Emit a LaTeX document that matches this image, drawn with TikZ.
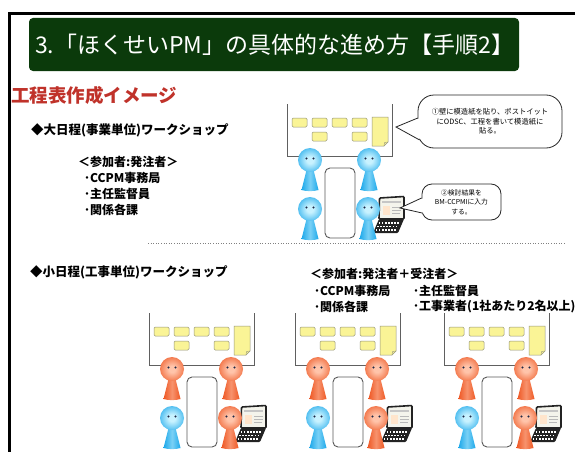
\documentclass[tikz,border=0pt]{standalone}
\usepackage{fontspec}
\setmainfont{Noto Sans CJK JP}
\usetikzlibrary{calc}

\definecolor{titlegreen}{RGB}{11,58,11}
\definecolor{headred}{RGB}{192,50,42}
\definecolor{bluedark}{RGB}{28,168,234}
\definecolor{bluelight}{RGB}{200,242,255}
\definecolor{orangedark}{RGB}{238,88,36}
\definecolor{orangelight}{RGB}{255,196,170}
\definecolor{notefill}{RGB}{250,244,150}
\definecolor{notedraw}{RGB}{150,150,125}
\definecolor{eyecol}{RGB}{30,40,70}
\definecolor{laptopdark}{RGB}{35,35,35}
\definecolor{screencol}{RGB}{244,244,236}

% shaded heads
\pgfdeclareradialshading{headblue}{\pgfpoint{0bp}{0bp}}{color(0bp)=(bluelight); color(7bp)=(bluelight); color(34bp)=(bluedark); color(50bp)=(bluedark)}
\pgfdeclareradialshading{headorange}{\pgfpoint{0bp}{0bp}}{color(0bp)=(orangelight); color(7bp)=(orangelight); color(34bp)=(orangedark); color(50bp)=(orangedark)}

\tikzset{
  body blue/.style={left color=bluedark, right color=bluedark, middle color=bluelight!55!bluedark},
  body orange/.style={left color=orangedark, right color=orangedark, middle color=orangelight!55!orangedark},
  board/.style={draw=gray!75!black, line width=1pt},
  note/.style={fill=notefill, draw=notedraw, line width=0.5pt, rounded corners=1.2pt},
  desk/.style={draw=gray!70!black, fill=white, line width=0.9pt, rounded corners=5pt},
  heading/.style={anchor=west, inner sep=0pt, font=\fontsize{12.5}{14}\selectfont\bfseries},
  member/.style={anchor=west, inner sep=0pt, font=\fontsize{12}{14}\selectfont\bfseries},
  bubble/.style={draw=gray!30!black, fill=white, line width=0.8pt, align=center, inner sep=2pt},
  pointer/.style={draw=gray!30!black, line width=0.8pt, line join=miter},
}

% one person: head centre x, y and colour (blue/orange)
\newcommand{\wsperson}[3]{%
  \shade[body #3] (#1-2.5,#2+6) -- (#1+2.5,#2+6) -- (#1+8.5,#2+30)
    .. controls (#1+4,#2+31.5) and (#1-4,#2+31.5) .. (#1-8.5,#2+30) -- cycle;
  \shade[shading=head#3] (#1,#2) circle (12pt);
  \fill[eyecol] (#1-3.5,#2-1.5) circle (1.1pt) (#1+3.5,#2-1.5) circle (1.1pt);
}

% one workshop table: board, notes, desk, laptop and four people
\newcommand{\wsgroup}[5]{%
  \begin{scope}[shift={#1}]
    % wall paper
    \draw[board] (0,-52) -- (0,0) -- (105,0) -- (105,-52);
    \foreach \nx in {5,25,45,65} {\draw[note] (\nx,-38) rectangle ++(15,9);}
    \foreach \nx in {25,65} {\draw[note] (\nx,-24) rectangle ++(15,9);}
    \draw[note, rounded corners=0pt] (85,-39) -- (101,-39) -- (101,-14) -- (97,-10) -- (85,-10) -- cycle;
    \draw[notedraw, line width=0.4pt] (101,-14) -- (97.5,-13.5) -- (97,-10);
    % desk
    \draw[desk] (38,12) rectangle (68,82);
    % laptop
    \fill[laptopdark, rounded corners=1pt] (86,77) -- (92,63) -- (117,63) -- (111,77) -- cycle;
    \foreach \r in {0,1,2} {
      \foreach \k in {0,...,6} {
        \fill[white] (91.5-\r*1.5+\k*3.1,66+\r*3.5) rectangle ++(1.8,1.6);
      }
    }
    \filldraw[draw=laptopdark, fill=screencol, line width=1.6pt, rounded corners=1pt]
      (92.5,42) -- (117,40.5) -- (117,63) -- (92,63) -- cycle;
    \fill[gray!45] (95,45) rectangle (114,46.5);
    \fill[orange!20] (96,49.5) rectangle (103,59);
    \draw[gray!55, line width=0.4pt] (105,51) -- (114,51) (105,54) -- (114,54) (105,57) -- (113,57);
    % people
    \wsperson{23}{4}{#2}
    \wsperson{82}{4}{#3}
    \wsperson{23}{53}{#4}
    \wsperson{81}{53}{#5}
  \end{scope}
}

\begin{document}
\begin{tikzpicture}[x=1pt, y=-1pt]
  \useasboundingbox (0,0) rectangle (575,452);
  \fill[white] (0,0) rectangle (575,452);

  % --- Frame and title ---
  \draw[line width=3pt, line join=miter] (575,13.5) -- (9.5,13.5) -- (9.5,452);
  \fill[titlegreen, rounded corners=4pt] (29,18) rectangle (519,71);
  \node[anchor=west, inner sep=0pt, text=white, font=\fontsize{23}{27}\selectfont]
    (title) at (35,45) {3.「ほくせいPM」の具体的な進め方【手順2】};

  \node[anchor=west, inner sep=0pt, text=headred, font=\fontsize{18.5}{20}\selectfont\bfseries]
    (subtitle) at (11,95) {工程表作成イメージ};

  % --- Large schedule workshop ---
  \node[heading] (big) at (31,130) {◆大日程(事業単位)ワークショップ};
  \node[member] (bighead) at (78,162) {＜参加者:発注者＞};
  \node[member] (bigA) at (84,178) {･CCPM事務局};
  \node[member] (bigB) at (84,194) {･主任監督員};
  \node[member] (bigC) at (84,210) {･関係各課};

  \wsgroup{(287,156)}{blue}{blue}{blue}{blue}

  % callouts
  \node[bubble, rounded corners=16pt, minimum width=144pt, minimum height=53pt,
    font=\fontsize{7.3}{9.6}\selectfont] (memo1) at (490,121.5)
    {①壁に模造紙を貼り、ポストイット\\にODSC、工程を書いて模造紙に\\貼る。};
  \coordinate (tip1) at (396,127);
  \coordinate (memo1 a) at ($(memo1.west)+(0.2,-3.5)$);
  \coordinate (memo1 b) at ($(memo1.west)+(2,18.5)$);
  \fill[white] ($(memo1 a)+(2.5,0)$) -- (tip1) -- ($(memo1 b)+(2.5,0)$) -- cycle;
  \draw[pointer] (memo1 a) -- (tip1) -- (memo1 b);

  \node[bubble, rounded corners=10pt, minimum width=79pt, minimum height=36pt,
    font=\fontsize{6.8}{9.5}\selectfont] (memo2) at (461.5,202)
    {②検討結果を\\BM-CCPMIに入力\\する。};
  \coordinate (tip2) at (400,208);
  \coordinate (memo2 a) at ($(memo2.west)+(0,-4)$);
  \coordinate (memo2 b) at ($(memo2.west)+(0.5,11)$);
  \fill[white] ($(memo2 a)+(2.5,0)$) -- (tip2) -- ($(memo2 b)+(2.5,0)$) -- cycle;
  \draw[pointer] (memo2 a) -- (tip2) -- (memo2 b);

  % separator
  \draw[gray, dotted, line width=0.6pt] (148,243) -- (565,243);

  % --- Small schedule workshop ---
  \node[heading] (small) at (30,272) {◆小日程(工事単位)ワークショップ};
  \node[member] (smallhead) at (310,274) {＜参加者:発注者＋受注者＞};
  \node[member] (smallA) at (314,291) {･CCPM事務局};
  \node[member] (smallB) at (413,291) {･主任監督員};
  \node[member] (smallC) at (314,307) {･関係各課};
  \node[member] (smallD) at (413,307) {･工事業者(1社あたり2名以上)};

  \foreach \gx in {149,295,444} {
    \wsgroup{(\gx,365)}{orange}{orange}{blue}{orange}
  }
\end{tikzpicture}
\end{document}
